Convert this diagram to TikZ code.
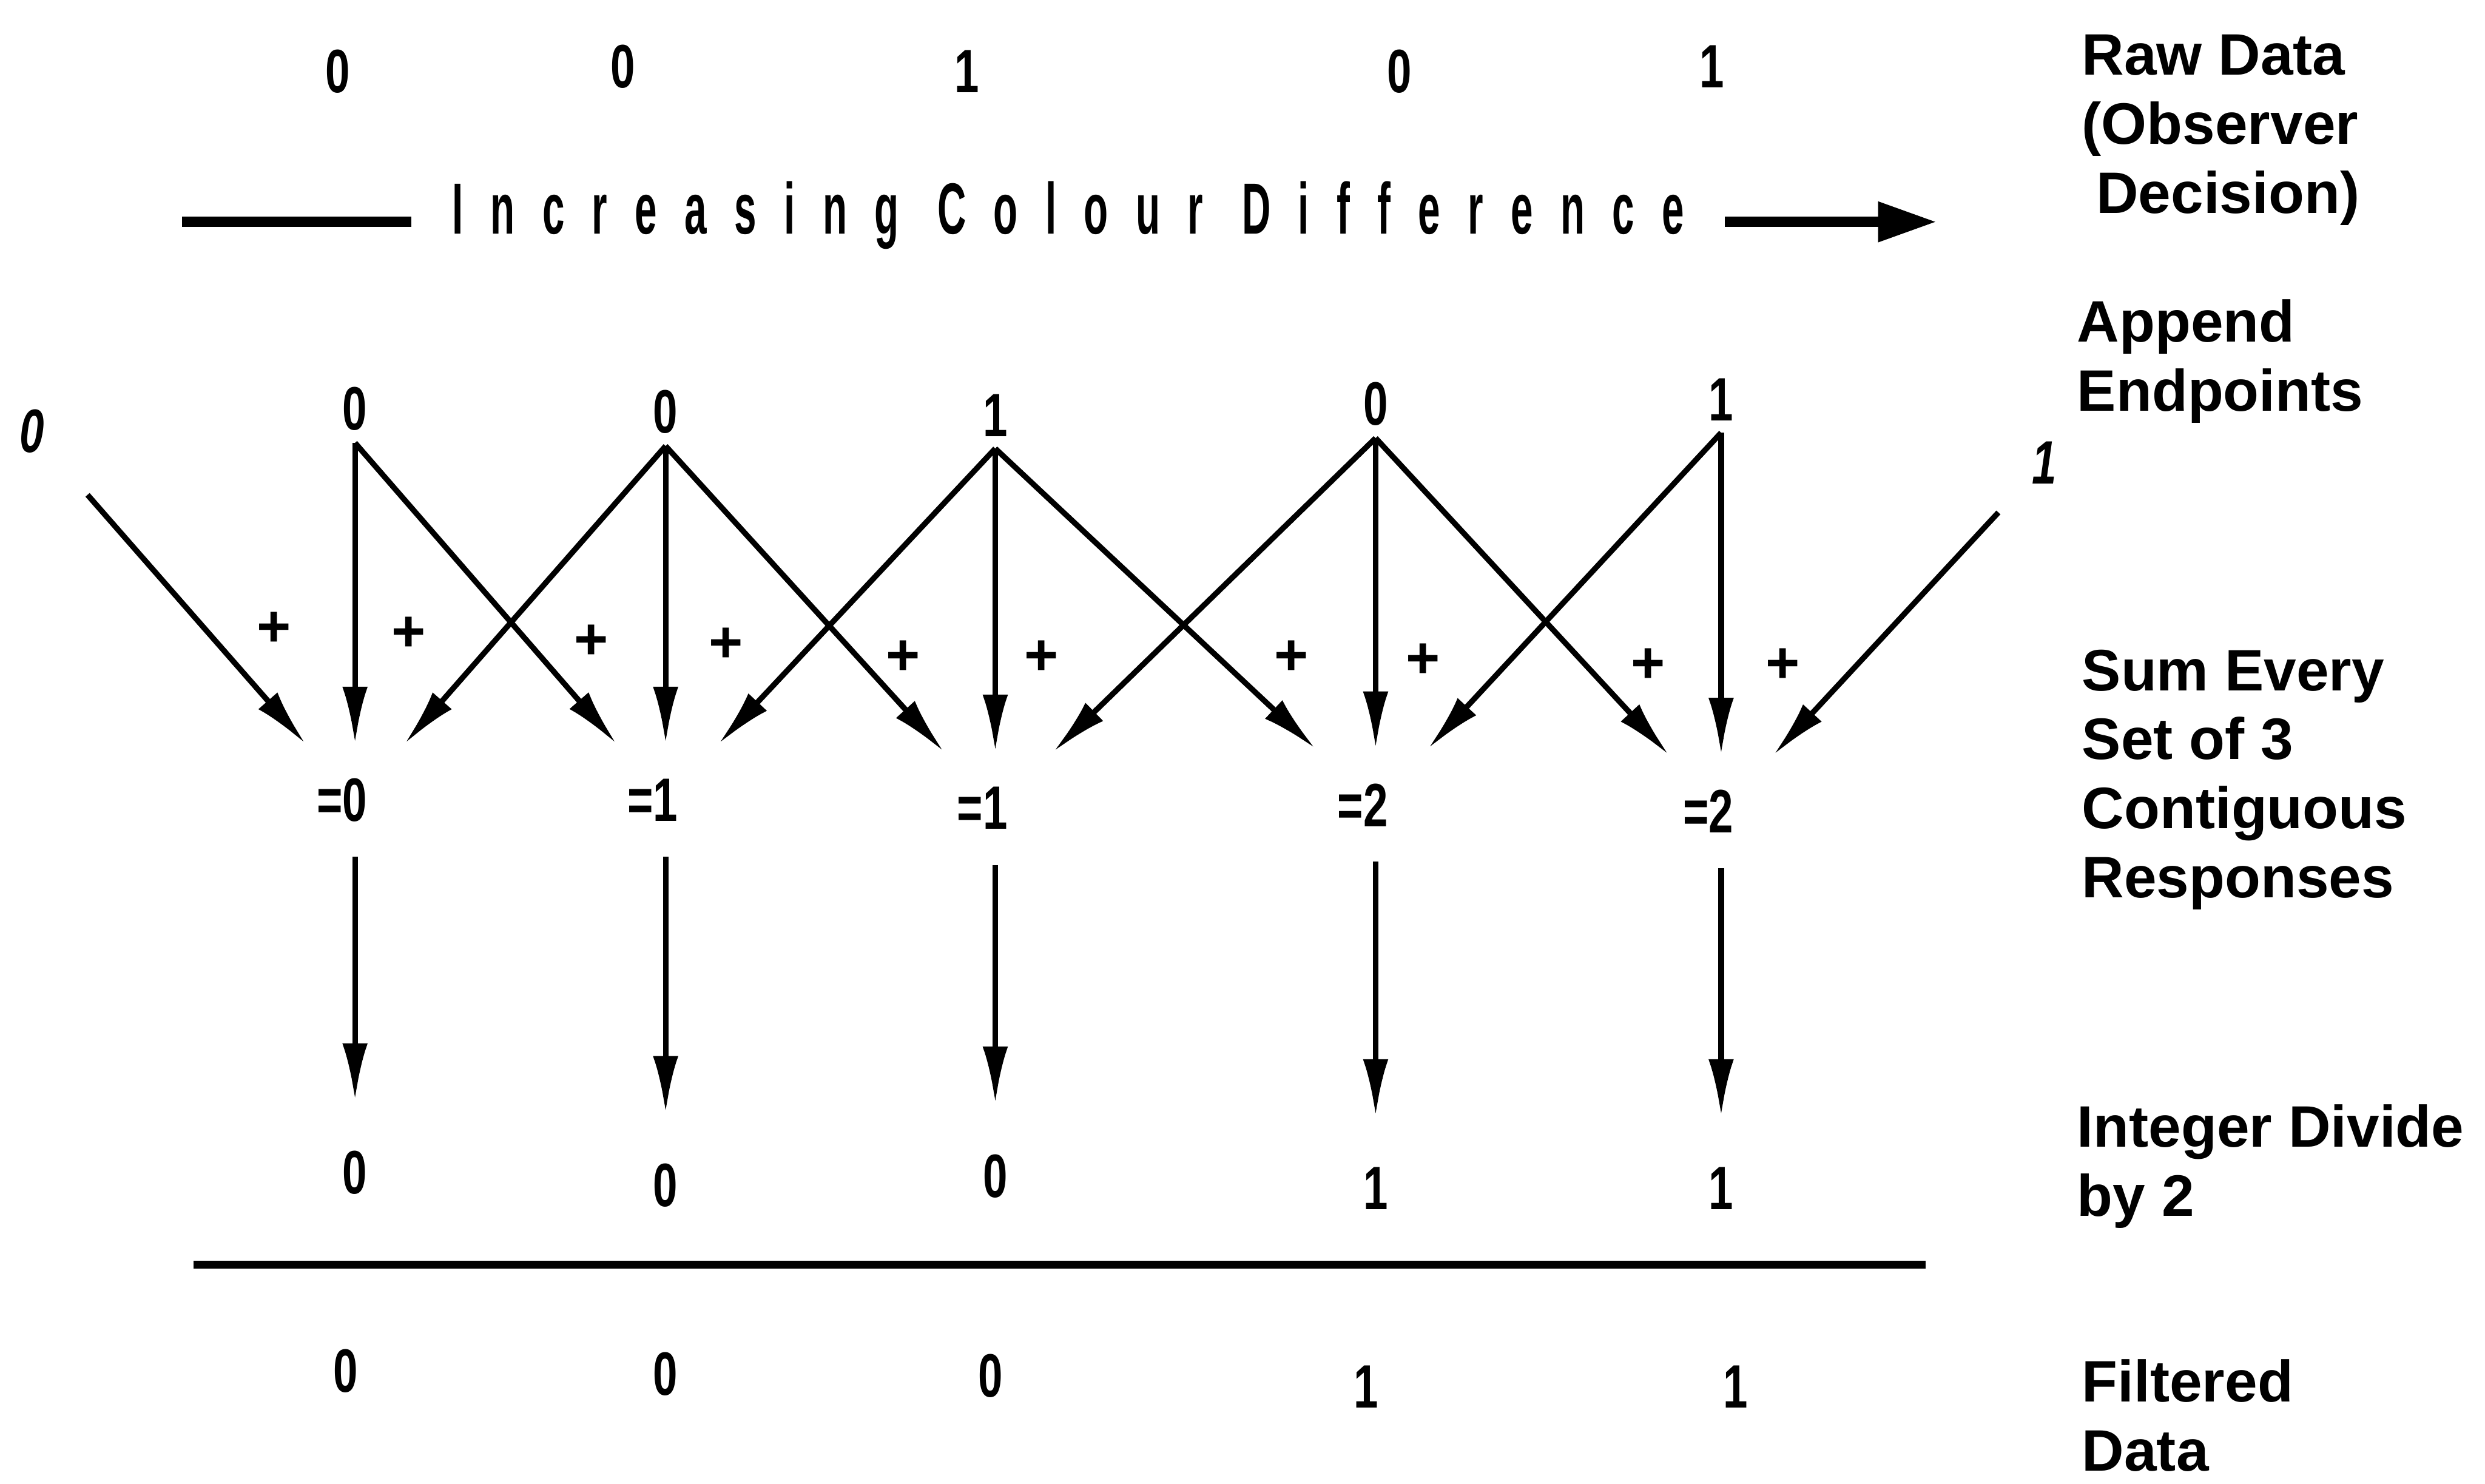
\documentclass[tikz,border=0pt]{standalone}
\usepackage{fontspec}
\setmainfont{Liberation Sans}
\newfontfamily\digitfont[FakeStretch=0.72]{Liberation Sans}
\newfontfamily\spreadfont[FakeStretch=0.55,LetterSpace=38]{Liberation Sans}
\usetikzlibrary{arrows.meta}

\begin{document}
\begin{tikzpicture}[
	digit/.style={
		font=\digitfont\bfseries\fontsize{11}{13}\selectfont,
		inner sep=2pt
	},
	endpoint/.style={
		font=\digitfont\bfseries\itshape\fontsize{11}{13}\selectfont,
		inner sep=2pt
	},
	% sum and divide nodes are tall so the arrows stop short of the text
	sum node/.style={digit, minimum width=1cm, minimum height=0.7cm},
	result node/.style={digit, minimum height=0.9cm},
	plus/.style={
		font=\bfseries\fontsize{10.5}{12}\selectfont,
		inner sep=0pt
	},
	step label/.style={
		anchor=west,
		align=left,
		inner sep=0pt,
		font=\bfseries\fontsize{10.5}{12.4}\selectfont
	},
	% Arrow styles
	flow/.style={
		draw,
		line width=1pt,
		-{Latex[length=3.6mm,width=1.6mm]}
	},
	rule/.style={
		draw,
		line width=1.4pt
	}
	]
	
	\fill[white] (0,0) rectangle (15.68,-9.36);
	
	% ================= RAW DATA =================
	\node[digit] (raw1) at (2.13,-0.45) {0};
	\node[digit] (raw2) at (3.93,-0.42) {0};
	\node[digit] (raw3) at (6.10,-0.45) {1};
	\node[digit] (raw4) at (8.83,-0.45) {0};
	\node[digit] (raw5) at (10.80,-0.42) {1};
	
	% ================= COLOUR AXIS =================
	\node[font=\spreadfont\bfseries\fontsize{13}{15}\selectfont, inner xsep=0.25cm] (colour) at (6.74,-1.36) {Increasing Colour Difference};
	\coordinate (colourL) at (1.15,-1.40);
	\coordinate (colourR) at (12.22,-1.40);
	\draw[rule, line width=1.8pt] (colourL) -- (colour.west |- colourL);
	\draw[rule, line width=1.8pt, -{Triangle[length=3.7mm,width=2.4mm]}] (colour.east |- colourR) -- (colourR);
	
	% ================= APPENDED ROW =================
	\node[endpoint] (e0) at (0.20,-2.72) {0};
	\node[digit] (a1) at (2.24,-2.58) {0};
	\node[digit] (a2) at (4.20,-2.60) {0};
	\node[digit] (a3) at (6.28,-2.62) {1};
	\node[digit] (a4) at (8.68,-2.55) {0};
	\node[digit] (a5) at (10.86,-2.52) {1};
	\node[endpoint] (e6) at (12.90,-2.92) {1};
	
	% ================= SUMS =================
	\node[sum node] (s1) at (2.24,-5.05) {\llap{=}0};
	\node[sum node] (s2) at (4.20,-5.05) {\llap{=}1};
	\node[sum node] (s3) at (6.28,-5.10) {\llap{=}1};
	\node[sum node] (s4) at (8.68,-5.08) {\llap{=}2};
	\node[sum node] (s5) at (10.86,-5.12) {\llap{=}2};
	
	% ================= DIVIDED =================
	\node[result node] (d1) at (2.24,-7.40) {0};
	\node[result node] (d2) at (4.20,-7.48) {0};
	\node[result node] (d3) at (6.28,-7.42) {0};
	\node[result node] (d4) at (8.68,-7.50) {1};
	\node[result node] (d5) at (10.86,-7.50) {1};
	
	% ================= FILTERED =================
	\node[digit] (f1) at (2.18,-8.65) {0};
	\node[digit] (f2) at (4.20,-8.67) {0};
	\node[digit] (f3) at (6.25,-8.68) {0};
	\node[digit] (f4) at (8.62,-8.75) {1};
	\node[digit] (f5) at (10.95,-8.75) {1};
	
	% ================= PLUS SIGNS =================
	\node[plus] (p1) at (1.73,-3.97) {+};
	\node[plus] (p2) at (2.58,-4.00) {+};
	\node[plus] (p3) at (3.73,-4.05) {+};
	\node[plus] (p4) at (4.58,-4.07) {+};
	\node[plus] (p5) at (5.70,-4.15) {+};
	\node[plus] (p6) at (6.57,-4.15) {+};
	\node[plus] (p7) at (8.15,-4.15) {+};
	\node[plus] (p8) at (8.98,-4.17) {+};
	\node[plus] (p9) at (10.40,-4.20) {+};
	\node[plus] (p10) at (11.25,-4.20) {+};
	
	% ================= STEP LABELS =================
	\node[step label] (lab1) at (13.13,-0.82) {Raw Data\\(Observer\\\hspace*{0.9mm}Decision)};
	\node[step label] (lab2) at (13.10,-2.28) {Append\\Endpoints};
	\node[step label] (lab3) at (13.13,-4.92) {Sum Every\\Set of 3\\Contiguous\\Responses};
	\node[step label] (lab4) at (13.10,-7.36) {Integer Divide\\by 2};
	\node[step label] (lab5) at (13.13,-8.93) {Filtered\\Data};
	
	% ================= EDGES =================
	\draw[flow, shorten <=0.3cm] (e0) -- (s1);
	\draw[flow] (a1.south) -- (s1);
	\draw[flow] (a1.south) -- (s2);
	\draw[flow] (a2.south) -- (s1);
	\draw[flow] (a2.south) -- (s2);
	\draw[flow] (a2.south) -- (s3);
	\draw[flow] (a3.south) -- (s2);
	\draw[flow] (a3.south) -- (s3);
	\draw[flow] (a3.south) -- (s4);
	\draw[flow] (a4.south) -- (s3);
	\draw[flow] (a4.south) -- (s4);
	\draw[flow] (a4.south) -- (s5);
	\draw[flow] (a5.south) -- (s4);
	\draw[flow] (a5.south) -- (s5);
	\draw[flow, shorten <=0.2cm] (e6) -- (s5);
	
	\draw[flow] (s1) -- (d1);
	\draw[flow] (s2) -- (d2);
	\draw[flow] (s3) -- (d3);
	\draw[flow] (s4) -- (d4);
	\draw[flow] (s5) -- (d5);
	
	\coordinate (ruleL) at (1.22,-7.98);
	\coordinate (ruleR) at (12.15,-7.98);
	\draw[rule] (ruleL) -- (ruleR);
	
\end{tikzpicture}
\end{document}
